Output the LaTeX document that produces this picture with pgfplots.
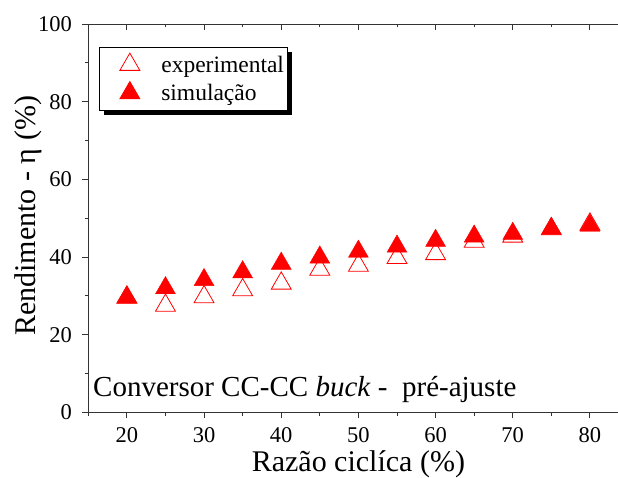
\documentclass[border=0pt]{standalone}
\usepackage{fontspec}
\setmainfont{Liberation Serif}
\usepackage{pgfplots}
\usepackage{pgfplotstable}
\pgfplotsset{compat=1.18}
\usetikzlibrary{shadows}

\pgfplotstableread{
x y
20 29.6
25 27.5
30 29.7
35 31.5
40 33.2
45 36.8
50 37.8
55 39.8
60 40.8
65 44.0
70 45.3
75 47.2
80 48.4
}\exptable

\pgfplotstableread{
x y
20 29.6
25 32.0
30 34.1
35 36.1
40 38.3
45 39.9
50 41.4
55 42.7
60 44.2
65 45.3
70 46.0
75 47.3
80 48.1
}\simtable

\begin{document}
\begin{tikzpicture}
\begin{axis}[
  at={(0pt,0pt)}, anchor=south west,
  scale only axis, width=540.2pt, height=388.3pt,
  xmin=15, xmax=85, ymin=0, ymax=100,
  xtick={20,30,40,50,60,70,80},
  minor xtick={15,25,35,45,55,65,75,85},
  ytick={0,20,40,60,80,100},
  minor ytick={10,30,50,70,90},
  xtick pos=bottom, ytick pos=left,
  tick align=outside,
  major tick length=6pt, minor tick length=3.5pt,
  axis line style={line width=0.9pt, black!80},
  every tick/.append style={line width=0.9pt, black!80},
  tick label style={font=\fontsize{22.5}{27}\selectfont, black},
  xticklabel style={yshift=-6pt},
  yticklabel style={xshift=-7pt},
  /pgf/number format/assume math mode=true,
  xlabel={Razão ciclíca (\%)},
  ylabel={Rendimento - η (\%)},
  xlabel style={font=\fontsize{30}{34}\selectfont, at={(axis description cs:0.5,0)}, anchor=base, yshift=-59pt},
  ylabel style={font=\fontsize{30}{34}\selectfont, at={(axis description cs:-0.0975,0.506)}, anchor=base},
  legend style={at={(axis description cs:0.0198,0.9415)}, anchor=north west,
    draw=black, line width=0.8pt, fill=white,
    font=\fontsize{23.5}{28}\selectfont,
    drop shadow={shadow xshift=5pt, shadow yshift=-5pt, fill=black, opacity=1},
    inner xsep=20.5pt, inner ysep=6pt, row sep=6pt, column sep=19.5pt},
  legend cell align=left,
]
\addplot[only marks, mark=triangle, mark size=11.5pt, red, mark options={line width=0.8pt}] table[x=x,y=y] {\exptable};
\addlegendentry{experimental\hspace*{-19pt}}
\addplot[only marks, mark=triangle*, mark size=11.5pt, red, mark options={fill=red, draw=red}] table[x=x,y=y] {\simtable};
\addlegendentry{simulação}
\node[anchor=base west, inner sep=0pt, font=\fontsize{29}{34}\selectfont] at (axis cs:15.61,4.1) {Conversor CC-CC \textit{buck} -\ \ pré-ajuste};
\end{axis}
\begin{axis}[
  at={(0pt,0pt)}, anchor=south west,
  scale only axis, width=540.2pt, height=388.3pt,
  xmin=15, xmax=85, ymin=0, ymax=100,
  axis line style={draw=none},
  xtick={20,30,40,50,60,70,80},
  minor xtick={15,25,35,45,55,65,75,85},
  xtick pos=top, tick align=inside,
  major tick length=6pt, minor tick length=3.5pt,
  every tick/.append style={line width=0.9pt, black!80},
  xticklabels={}, ytick=\empty,
]
\end{axis}
\pgfresetboundingbox
\path (-88.3pt,-65.7pt) rectangle (529.7pt,412.3pt);
\end{tikzpicture}
\end{document}
